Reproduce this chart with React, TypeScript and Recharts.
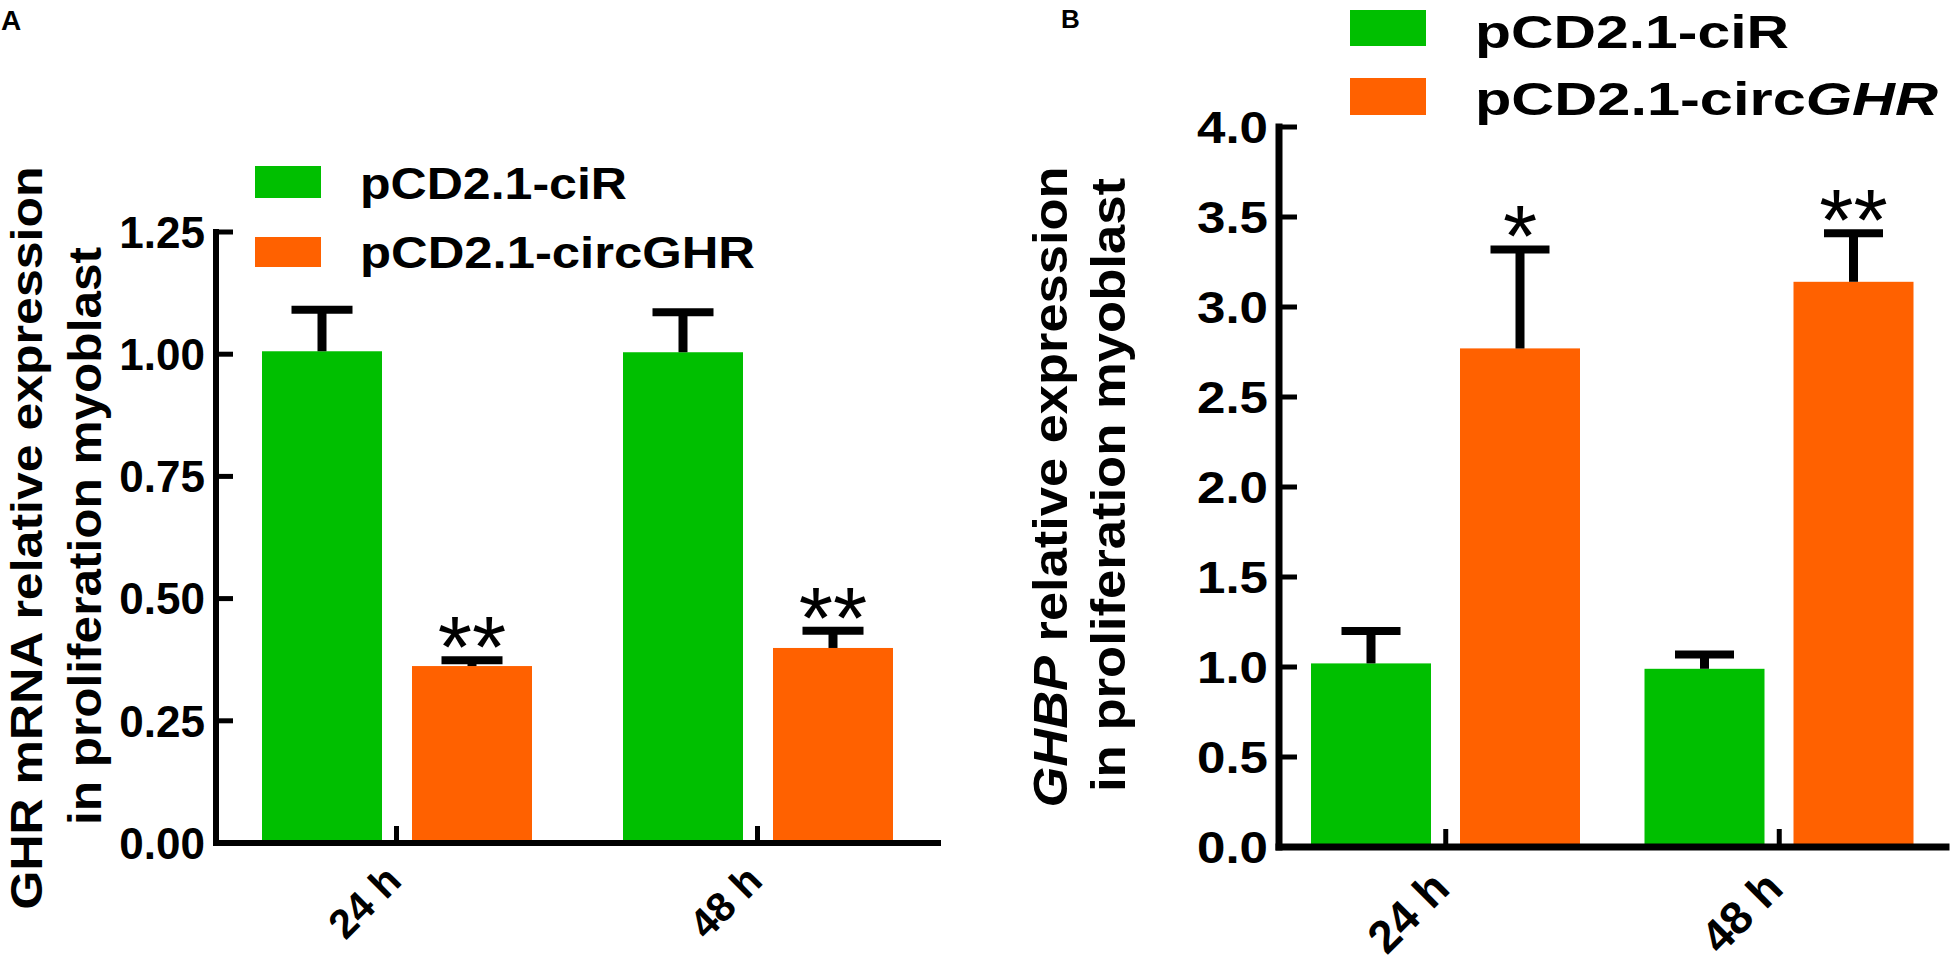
import React from 'react';
import { BarChart, Bar, XAxis, YAxis, Legend } from 'recharts';

const timePoints = ['24 h', '48 h'];

// panel A: GHR mRNA
const ghrCiR = [1.006, 1.004];
const ghrCiRSem = [0.085, 0.082];
const ghrCirc = [0.362, 0.399];
const ghrCircSem = [0.012, 0.035];
const ghrCircSig = ['**', '**'];
const ghrTicks = [0, 0.25, 0.5, 0.75, 1, 1.25];

// panel B: GHBP
const ghbpCiR = [1.02, 0.99];
const ghbpCiRSem = [0.18, 0.08];
const ghbpCirc = [2.77, 3.14];
const ghbpCircSem = [0.55, 0.27];
const ghbpCircSig = ['*', '**'];
const ghbpTicks = [0, 0.5, 1, 1.5, 2, 2.5, 3, 3.5, 4];

const GREEN = '#00bf00';
const ORANGE = '#ff6100';
const FONT = '"Liberation Sans", Arial, Helvetica, sans-serif';

const ghrData = timePoints.map((t, i) => ({
  time: t,
  ciR: ghrCiR[i],
  ciRSem: ghrCiRSem[i],
  ciRSig: '',
  circ: ghrCirc[i],
  circSem: ghrCircSem[i],
  circSig: ghrCircSig[i],
}));

const ghbpData = timePoints.map((t, i) => ({
  time: t,
  ciR: ghbpCiR[i],
  ciRSem: ghbpCiRSem[i],
  ciRSig: '',
  circ: ghbpCirc[i],
  circSem: ghbpCircSem[i],
  circSig: ghbpCircSig[i],
}));

// bar with an upper-only error bar and significance stars
const makeBarShape = (valueKey: string, semKey: string, sigKey: string, capWidth: number) => (props: any) => {
  const { x, y, width, height, fill, payload } = props;
  const mean = payload[valueKey];
  const unit = mean ? height / mean : 0;
  const top = y - payload[semKey] * unit;
  const cx = x + width / 2;
  const sig = payload[sigKey];
  return (
    <g>
      <rect x={x} y={y} width={width} height={height} fill={fill} />
      <line x1={cx} x2={cx} y1={y} y2={top} stroke="#000" strokeWidth={9} />
      <line x1={cx - capWidth / 2} x2={cx + capWidth / 2} y1={top} y2={top} stroke="#000" strokeWidth={8} />
      {sig && (
        <text x={cx} y={top + 17} textAnchor="middle" fontSize={88} fontFamily={FONT} fill="#000">
          {sig}
        </text>
      )}
    </g>
  );
};

const renderYTick = (digits: number, fontSize: number, textLength?: number) => (props: any) => {
  const { x, y, payload } = props;
  return (
    <text
      x={x}
      y={y}
      dy="0.36em"
      textAnchor="end"
      fontFamily={FONT}
      fontWeight="bold"
      fontSize={fontSize}
      fill="#000"
      textLength={textLength}
      lengthAdjust={textLength ? 'spacingAndGlyphs' : undefined}
    >
      {Number(payload.value).toFixed(digits)}
    </text>
  );
};

const renderXTick = (fontSize: number, dx: number) => (props: any) => {
  const { x, y, payload } = props;
  const px = x + dx;
  return (
    <text
      x={px}
      y={y}
      transform={`rotate(-45, ${px}, ${y})`}
      textAnchor="end"
      fontFamily={FONT}
      fontWeight="bold"
      fontSize={fontSize}
      fill="#000"
    >
      {payload.value}
    </text>
  );
};

interface LegendRow {
  rectY: number;
  rectH: number;
  baseline: number;
  textLength: number;
}

const makeLegend = (rows: LegendRow[], rectW: number, textX: number, fontSize: number, italicGene: boolean) => (props: any) => {
  const { payload } = props;
  return (
    <svg width={620} height={160} style={{ display: 'block', overflow: 'visible' }}>
      {(payload || []).map((entry: any, i: number) => {
        const row = rows[i];
        const name: string = entry.value;
        const gene = italicGene && name.endsWith('GHR');
        return (
          <g key={name}>
            <rect x={0} y={row.rectY} width={rectW} height={row.rectH} fill={entry.color} />
            <text
              x={textX}
              y={row.baseline}
              fontFamily={FONT}
              fontWeight="bold"
              fontSize={fontSize}
              fill="#000"
              textLength={row.textLength}
              lengthAdjust="spacingAndGlyphs"
            >
              {gene ? (
                <>
                  {name.slice(0, -3)}
                  <tspan fontStyle="italic">GHR</tspan>
                </>
              ) : (
                name
              )}
            </text>
          </g>
        );
      })}
    </svg>
  );
};

const legendA = makeLegend(
  [
    { rectY: 26, rectH: 32, baseline: 59, textLength: 267 },
    { rectY: 97, rectH: 30, baseline: 128, textLength: 395 },
  ],
  66,
  105,
  44,
  false
);

const legendB = makeLegend(
  [
    { rectY: 10, rectH: 36, baseline: 48, textLength: 314 },
    { rectY: 78, rectH: 37, baseline: 115, textLength: 463 },
  ],
  76,
  125,
  46,
  true
);

const ghrTitle = () => (
  <g fontFamily={FONT} fontWeight="bold" fill="#000">
    <text x={1} y={30} fontSize={28}>A</text>
    <text
      x={42}
      y={538}
      transform="rotate(-90, 42, 538)"
      textAnchor="middle"
      fontSize={45}
      textLength={743}
      lengthAdjust="spacingAndGlyphs"
    >
      GHR mRNA relative expression
    </text>
    <text
      x={101}
      y={536}
      transform="rotate(-90, 101, 536)"
      textAnchor="middle"
      fontSize={46}
      textLength={578}
      lengthAdjust="spacingAndGlyphs"
    >
      in proliferation myoblast
    </text>
  </g>
);

const ghbpTitle = () => (
  <g fontFamily={FONT} fontWeight="bold" fill="#000">
    <text x={61} y={28} fontSize={26}>B</text>
    <text
      x={67}
      y={487}
      transform="rotate(-90, 67, 487)"
      textAnchor="middle"
      fontSize={48}
      textLength={641}
      lengthAdjust="spacingAndGlyphs"
    >
      <tspan fontStyle="italic">GHBP</tspan> relative expression
    </text>
    <text
      x={125}
      y={485}
      transform="rotate(-90, 125, 485)"
      textAnchor="middle"
      fontSize={48}
      textLength={614}
      lengthAdjust="spacingAndGlyphs"
    >
      in proliferation myoblast
    </text>
  </g>
);

const axisStyle = { stroke: '#000', strokeWidth: 6, strokeLinecap: 'square' as const };
const tickStyle = { stroke: '#000', strokeWidth: 5 };

const GhrChart = () => (
  <BarChart
    width={1000}
    height={969}
    data={ghrData}
    margin={{ top: 232, right: 62, bottom: 0, left: 0 }}
    barGap={30}
    barSize={120}
  >
    <Bar dataKey="ciR" name="pCD2.1-ciR" fill={GREEN} isAnimationActive={false} shape={makeBarShape('ciR', 'ciRSem', 'ciRSig', 61)} />
    <Bar dataKey="circ" name="pCD2.1-circGHR" fill={ORANGE} isAnimationActive={false} shape={makeBarShape('circ', 'circSem', 'circSig', 61)} />
    <XAxis
      dataKey="time"
      height={126}
      interval={0}
      axisLine={axisStyle}
      tickLine={tickStyle}
      tickSize={-17}
      tickMargin={57}
      tick={renderXTick(41, 7)}
    />
    <YAxis
      width={216}
      domain={[0, 1.25]}
      ticks={ghrTicks}
      interval={0}
      axisLine={axisStyle}
      tickLine={tickStyle}
      tickSize={-17}
      tickMargin={28}
      tick={renderYTick(2, 44)}
      label={ghrTitle}
    />
    <Legend
      layout="vertical"
      align="center"
      verticalAlign="middle"
      content={legendA}
      wrapperStyle={{ left: 255, top: 140, width: 620, height: 160, right: 'auto', bottom: 'auto' }}
    />
  </BarChart>
);

const GhbpChart = () => (
  <BarChart
    width={950}
    height={969}
    data={ghbpData}
    margin={{ top: 127, right: 4, bottom: 0, left: 0 }}
    barGap={29}
    barSize={120}
  >
    <Bar dataKey="ciR" name="pCD2.1-ciR" fill={GREEN} isAnimationActive={false} shape={makeBarShape('ciR', 'ciRSem', 'ciRSig', 59)} />
    <Bar dataKey="circ" name="pCD2.1-circGHR" fill={ORANGE} isAnimationActive={false} shape={makeBarShape('circ', 'circSem', 'circSig', 59)} />
    <XAxis
      dataKey="time"
      height={122}
      interval={0}
      axisLine={{ ...axisStyle, strokeWidth: 7 }}
      tickLine={tickStyle}
      tickSize={-18}
      tickMargin={62}
      tick={renderXTick(46, 6)}
    />
    <YAxis
      width={279}
      domain={[0, 4]}
      ticks={ghbpTicks}
      interval={0}
      axisLine={{ ...axisStyle, strokeWidth: 7 }}
      tickLine={tickStyle}
      tickSize={-18}
      tickMargin={29}
      tick={renderYTick(1, 44, 71)}
      label={ghbpTitle}
    />
    <Legend
      layout="vertical"
      align="center"
      verticalAlign="middle"
      content={legendB}
      wrapperStyle={{ left: 350, top: 0, width: 620, height: 160, right: 'auto', bottom: 'auto' }}
    />
  </BarChart>
);

export default function App() {
  return (
    <div style={{ position: 'absolute', left: 0, top: 0, width: 1950, height: 969, background: '#fff', overflow: 'hidden' }}>
      <div style={{ position: 'absolute', left: 0, top: 0 }}>
        <GhrChart />
      </div>
      <div style={{ position: 'absolute', left: 1000, top: 0 }}>
        <GhbpChart />
      </div>
    </div>
  );
}
